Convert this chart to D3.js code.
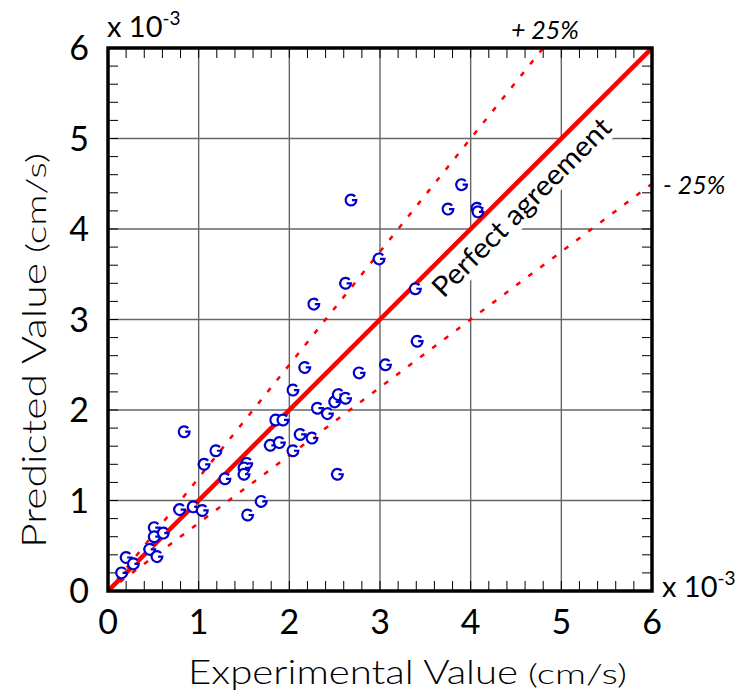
<!DOCTYPE html>
<meta charset="utf-8">
<title>Predicted vs Experimental</title>
<style>
  body { margin: 0; background: #fff; }
  text { font-family: Lato, "DejaVu Sans", sans-serif; fill: #000; }
</style>
<body>
<script src="https://cdnjs.cloudflare.com/ajax/libs/d3/7.8.5/d3.min.js"></script>
<script>

// values are x 10^-3 cm/s
const experimental = [0.15, 0.20, 0.28, 0.46, 0.54, 0.51, 0.51, 0.61, 0.79, 0.84, 0.94, 1.04, 1.06, 1.19, 1.29,
  1.53, 1.50, 1.50, 1.54, 1.69, 1.79, 1.85, 1.89, 1.93, 2.04, 2.04, 2.12, 2.17, 2.25, 2.27, 2.31, 2.42,
  2.50, 2.54, 2.62, 2.53, 2.62, 2.68, 2.77, 2.99, 3.06, 3.39, 3.41, 3.75, 3.90, 4.07, 4.08];
const predicted = [0.20, 0.37, 0.30, 0.46, 0.38, 0.70, 0.60, 0.64, 0.90, 1.76, 0.93, 0.89, 1.40, 1.55, 1.24,
  1.41, 1.36, 1.29, 0.84, 0.99, 1.61, 1.89, 1.64, 1.89, 2.22, 1.55, 1.73, 2.47, 1.69, 3.17, 2.02, 1.96,
  2.09, 2.17, 2.13, 1.29, 3.40, 4.32, 2.41, 3.67, 2.50, 3.34, 2.76, 4.22, 4.49, 4.23, 4.19];
const tickValues = [0, 1, 2, 3, 4, 5, 6];
const bands = [
  { label: "+ 25%", factor: 1.25 },
  { label: "- 25%", factor: 0.75 }
];

var width = 745,
  height = 697,
  pLeft = 108, pRight = 652, pTop = 48, pBottom = 591;

var x = d3.scaleLinear().domain([0, 6]).range([pLeft, pRight]);
var y = d3.scaleLinear().domain([0, 6]).range([pBottom, pTop]);

var svg = d3.select("body").append("svg")
    .attr("width", width)
    .attr("height", height);

svg.append("defs").append("clipPath").attr("id", "plot")
  .append("rect")
    .attr("x", pLeft).attr("y", pTop)
    .attr("width", pRight - pLeft).attr("height", pBottom - pTop);

// grid
var grid = svg.append("g");
grid.selectAll(".gx").data(tickValues.slice(1, -1)).enter().append("line")
    .attr("x1", d => x(d)).attr("x2", d => x(d))
    .attr("y1", pTop).attr("y2", pBottom)
    .style("stroke", "#666").style("stroke-width", 1.4);
grid.selectAll(".gy").data(tickValues.slice(1, -1)).enter().append("line")
    .attr("y1", d => y(d)).attr("y2", d => y(d))
    .attr("x1", pLeft).attr("x2", pRight)
    .style("stroke", "#666").style("stroke-width", 1.4);

// minor ticks pointing in, all four sides
var minor = d3.range(0, 30).map(i => i / 5);
var tickLen = 10;
var ticks = svg.append("g").style("stroke", "#000").style("stroke-width", 1);
minor.forEach(v => {
  ticks.append("line").attr("x1", x(v)).attr("x2", x(v)).attr("y1", pBottom).attr("y2", pBottom - tickLen);
  ticks.append("line").attr("x1", x(v)).attr("x2", x(v)).attr("y1", pTop).attr("y2", pTop + tickLen);
  ticks.append("line").attr("y1", y(v)).attr("y2", y(v)).attr("x1", pLeft).attr("x2", pLeft + tickLen);
  ticks.append("line").attr("y1", y(v)).attr("y2", y(v)).attr("x1", pRight).attr("x2", pRight - tickLen);
});

// white box behind the "Perfect agreement" label
var at = 4.4, off = 15;
var lx = x(at) + off, ly = y(at) + off;
var label = svg.append("g")
    .attr("transform", "translate(" + lx + "," + ly + ") rotate(-45)");
label.append("rect")
    .attr("x", -126).attr("y", -21).attr("width", 252).attr("height", 36)
    .style("fill", "#fff");

// +/- 25% dashed lines
var plot = svg.append("g").attr("clip-path", "url(#plot)");
plot.selectAll(".band").data(bands).enter().append("line")
    .attr("x1", x(0)).attr("y1", y(0))
    .attr("x2", d => x(Math.min(6, 6 / d.factor)))
    .attr("y2", d => y(Math.min(6, 6 / d.factor) * d.factor))
    .style("stroke", "#ff0000")
    .style("stroke-width", 2.5)
    .style("stroke-dasharray", "5,10");

// perfect agreement
plot.append("line")
    .attr("x1", x(0)).attr("y1", y(0))
    .attr("x2", x(6)).attr("y2", y(6))
    .style("stroke", "#ff0000")
    .style("stroke-width", 4.5);

label.append("text")
    .attr("text-anchor", "middle")
    .attr("dominant-baseline", "central")
    .attr("y", -2)
    .attr("textLength", 240)
    .attr("lengthAdjust", "spacingAndGlyphs")
    .style("font-size", "28px")
    .text("Perfect agreement");

// markers
var r = 5.4, a0 = -40 * Math.PI / 180;
var marker = "M" + (r * Math.cos(a0)) + "," + (r * Math.sin(a0)) +
  " A" + r + "," + r + " 0 1 0 " + r + ",0 L1,0";
svg.append("g").selectAll("path")
    .data(experimental.map((e, i) => [e, predicted[i]]))
  .enter().append("path")
    .attr("transform", d => "translate(" + x(d[0]) + "," + y(d[1]) + ")")
    .attr("d", marker)
    .style("fill", "#fff")
    .style("stroke", "#0000cc")
    .style("stroke-width", 2.2);

// frame
svg.append("rect")
    .attr("x", pLeft).attr("y", pTop)
    .attr("width", pRight - pLeft).attr("height", pBottom - pTop)
    .style("fill", "none").style("stroke", "#000").style("stroke-width", 3.5);

// tick labels
svg.append("g").selectAll("text").data(tickValues).enter().append("text")
    .attr("x", d => x(d)).attr("y", 634)
    .attr("text-anchor", "middle")
    .style("font-size", "34px")
    .text(d => d);
svg.append("g").selectAll("text").data(tickValues).enter().append("text")
    .attr("x", 89).attr("y", d => y(d) + 12)
    .attr("text-anchor", "end")
    .style("font-size", "34px")
    .text(d => d);

// exponent labels
function expLabel(px, py) {
  var t = svg.append("text").attr("x", px).attr("y", py).style("font-size", "29px");
  t.append("tspan").text("x 10");
  t.append("tspan").attr("dy", -12).style("font-size", "19px").text("-3");
}
expLabel(107, 37);
expLabel(662, 597);

// band labels
svg.append("text").attr("x", 511).attr("y", 39)
    .style("font-size", "25px").style("font-style", "italic")
    .text(bands[0].label);
svg.append("text").attr("x", 663).attr("y", 194)
    .style("font-size", "25px").style("font-style", "italic")
    .text(bands[1].label);

// axis titles
var xt = svg.append("text").attr("x", 188).attr("y", 684)
    .style("font-size", "33px").style("font-weight", 300);
xt.append("tspan").attr("textLength", 330).attr("lengthAdjust", "spacingAndGlyphs").text("Experimental Value");
xt.append("tspan").attr("dx", 10).attr("textLength", 99).attr("lengthAdjust", "spacingAndGlyphs")
    .style("font-size", "27px").text("(cm/s)");

var yt = svg.append("text")
    .attr("transform", "translate(46,548) rotate(-90)")
    .style("font-size", "33px").style("font-weight", 300);
yt.append("tspan").attr("textLength", 285).attr("lengthAdjust", "spacingAndGlyphs").text("Predicted Value");
yt.append("tspan").attr("dx", 10).attr("textLength", 100).attr("lengthAdjust", "spacingAndGlyphs")
    .style("font-size", "27px").text("(cm/s)");

</script>
</body>
